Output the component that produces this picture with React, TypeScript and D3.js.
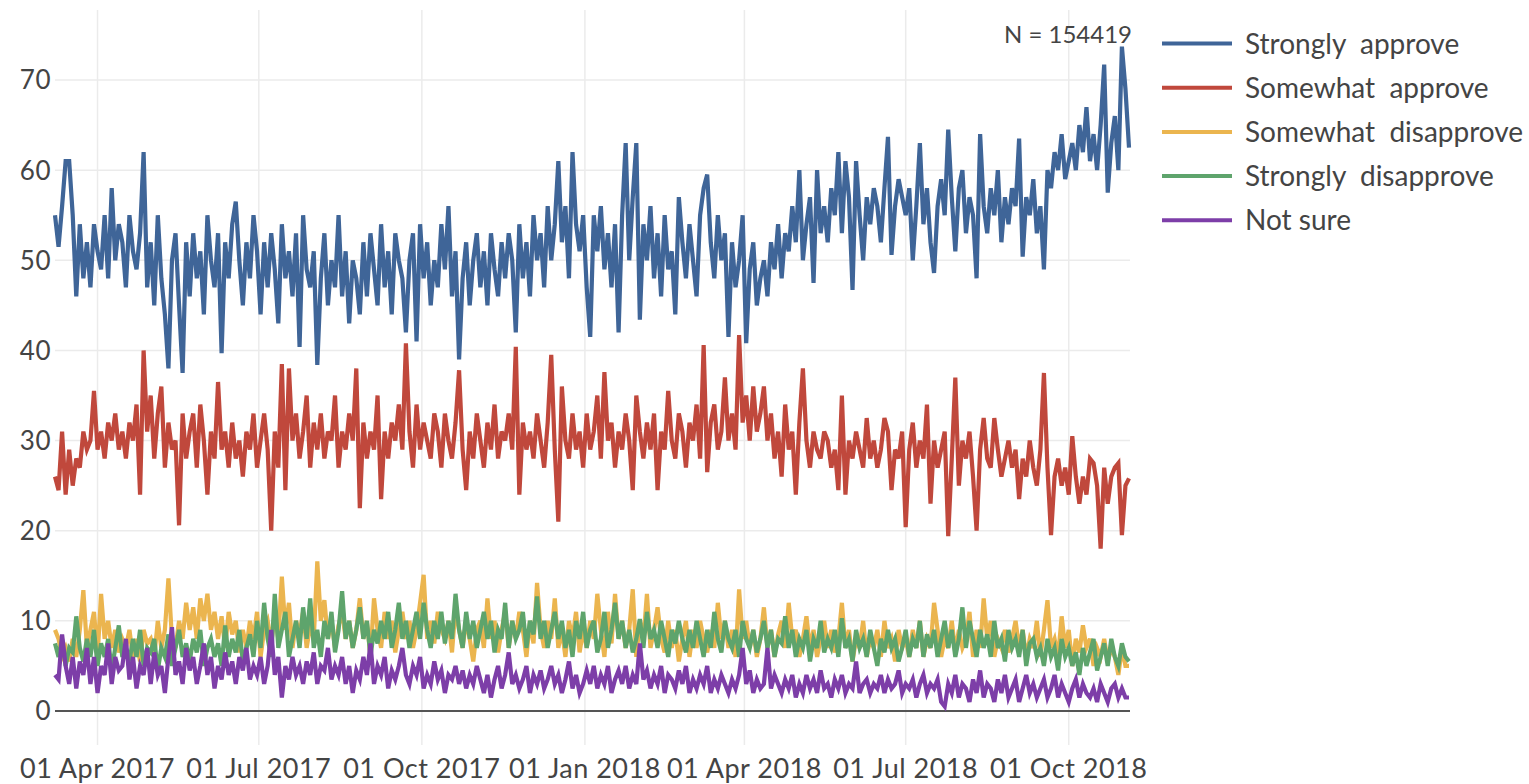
import React from "react";
import * as d3 from "d3";

// ---- data (one value every 2 days, starting 2017-03-08) ----
const startDate = "2017-03-08";
const stepDays = 2;

const seriesNames = ["Strongly  approve", "Somewhat  approve", "Somewhat  disapprove", "Strongly  disapprove", "Not sure"];
const seriesColors = ["#3f6598", "#c0483c", "#ebb54f", "#5ea46c", "#7d3ea8"];

const strongApprove = [
  55, 51.5, 56, 61, 61, 55, 46, 54, 48, 52,
  47, 54, 51, 49, 55, 48, 58, 50, 54, 52,
  47, 55, 51, 49, 53, 62, 47, 52, 45, 55,
  48, 44, 38, 50, 53, 45, 37.5, 52, 46, 53,
  48, 51, 44, 55, 50, 47, 53, 39.7, 52, 48,
  54, 56.5, 50, 45, 52, 48, 55, 51, 44, 52,
  47, 53, 49, 43, 54, 48, 51, 46, 53, 40.4,
  55, 49, 47, 51, 38.4, 48, 53, 45, 50, 47,
  55, 46, 51, 43, 50, 48, 44, 52, 46, 53,
  49, 45, 54, 47, 51, 44, 53, 50, 48, 42,
  50, 53, 41, 54, 48, 52, 45, 50, 47, 54,
  49, 56, 46, 51, 39, 48, 52, 45, 50, 53,
  47, 51, 45, 53, 49, 46, 52, 48, 53, 50,
  42, 54, 48, 52, 46, 55, 50, 53, 47, 56,
  50, 54, 61, 52, 56, 48, 62, 54, 51, 55,
  47, 41.5, 55, 51, 56, 49, 53, 47, 54, 42,
  55, 63, 50, 57, 63, 43.4, 54, 50, 56, 48,
  53, 46, 55, 49, 51, 44, 57, 52, 48, 54,
  50, 46, 55, 58, 59.5, 52, 48, 55, 50, 53,
  41.5, 52, 47, 50, 55, 40.8, 49, 52, 45, 48,
  50, 46, 52, 49, 54, 48, 53, 51, 56, 52,
  60, 50, 54, 57, 47.5, 60, 53, 56, 52, 58,
  55, 62, 53, 61, 57, 46.7, 61, 55, 50, 57,
  54, 58, 56, 52, 58, 63.7, 50.6, 56, 59, 57,
  55, 58, 50, 56, 63, 54, 58, 52, 48.6, 56,
  59, 55, 64.5, 57, 51, 58, 60, 53, 57, 55,
  48, 64, 56, 53, 58, 55, 60, 52, 57, 54,
  58, 56, 63.5, 50.4, 57, 55, 59, 53, 56, 49,
  60, 58, 62, 60, 64, 59, 61, 63, 60, 65,
  62, 67, 61, 64, 60, 65, 71.7, 57.5, 63, 66,
  60, 73.7, 69, 62.5,
];

const somewhatApprove = [
  26, 24.5, 31, 24, 29, 25, 28, 27, 31, 29,
  30, 35.5, 29, 31, 28, 32, 30, 33, 29, 31,
  28, 32, 30, 34, 24, 40, 31, 35, 28, 33,
  36, 27, 32, 29, 30, 20.6, 33, 28, 31, 33,
  27, 34, 30, 24, 31, 28, 36.5, 29, 31, 27,
  32, 28, 30, 26, 31, 29, 33, 27, 30, 33,
  29, 20, 31, 27, 38.5, 24.5, 38, 30, 33, 28,
  31, 35, 27, 32, 29, 33, 28, 31, 30, 35,
  27, 31, 29, 33, 30, 38, 22.5, 32, 28, 31,
  29, 35, 23.5, 31, 28, 32, 30, 34, 29, 40.8,
  31, 27, 34, 29, 32, 30, 28, 33, 31, 27,
  33, 30, 28, 32, 37.8, 29, 24.5, 31, 28, 33,
  30, 27, 32, 29, 34, 28, 31, 30, 33, 29,
  40.4, 24, 32, 29, 31, 28, 33, 30, 27, 32,
  39.5, 29, 21, 36, 30, 28, 33, 29, 31, 27,
  33, 29, 31, 35, 28, 37.6, 30, 32, 27, 31,
  29, 33, 30, 24.5, 35, 31, 28, 32, 29, 33,
  24.5, 31, 29, 35.5, 30, 28, 33, 31, 27, 32,
  30, 34, 28, 40.6, 26.5, 32, 34, 29, 31, 37,
  30, 33, 29, 41.7, 32, 35, 30, 36, 31, 33,
  36, 30, 33, 28, 31, 26, 34, 29, 31, 24,
  32, 38, 30, 27, 31, 29, 28, 31, 30, 27,
  29, 24.5, 35, 24, 30, 28, 31, 29, 27, 32.5,
  28, 30, 27, 29, 32.5, 31, 24.5, 29, 28, 31,
  20.4, 29, 32, 27, 30, 28, 34, 23, 30, 27,
  29, 31, 19.4, 28, 37, 25, 30, 28, 31, 26,
  20, 29, 32.5, 28, 27, 32.5, 29, 26, 28, 30,
  27, 29, 23.5, 28, 26, 30, 27, 25, 29, 37.5,
  27, 19.5, 26, 28, 25, 27, 24, 30.5, 26, 23,
  26, 24, 28, 27.5, 25, 18, 27, 23, 26, 27,
  27.5, 19.5, 25, 25.8,
];

const somewhatDisapprove = [
  9, 8, 6, 7, 5.5, 8, 6, 9, 13.4, 7,
  9, 11, 6, 13, 8, 10, 7, 9, 6.5, 8,
  7, 9, 6, 8, 5.5, 9, 7.5, 8, 6, 10,
  7, 9, 14.7, 8, 7, 10, 8, 12, 9, 11.5,
  8, 12.5, 10, 13, 9, 11, 8, 10.5, 7, 11,
  8.5, 10, 6.5, 9, 7, 10, 8, 11, 6, 9,
  10, 7.5, 11, 8, 14.9, 9, 12, 7, 10, 8.5,
  11, 7, 9.5, 8, 16.6, 10, 12.3, 8, 10, 7,
  9.5, 11, 8, 10, 7, 9, 12.5, 8, 10, 6,
  12.5, 9, 7, 11, 8, 10, 6.5, 9, 11, 8,
  10, 7, 9, 12, 15.1, 8, 10, 7.5, 11, 9,
  8, 10, 6.5, 11.5, 9, 7, 10, 8, 5.5, 9,
  10, 7, 12.5, 8, 10, 6.5, 9, 11, 7, 10,
  8, 11, 9, 6, 10, 7.5, 14.2, 9, 7, 10,
  8, 12.5, 7, 9, 6, 10, 8, 11, 6.5, 9,
  7, 10, 8, 13, 9, 6, 11, 7.5, 13, 8,
  10, 7, 9, 13.5, 6, 10, 8, 13, 7, 9,
  11.5, 8, 6.5, 10, 7, 9, 5.5, 8, 10, 6,
  9, 7, 10, 8, 6.5, 9, 7, 12, 8, 10,
  7, 9, 6, 13.5, 8, 10, 7, 9, 6, 8,
  11.5, 7, 9, 6, 8.5, 10, 7, 12, 8, 9,
  6, 8, 10.5, 7, 9, 6, 8, 10, 7, 9,
  6.5, 8, 12, 7, 9, 5.5, 8, 7, 10, 6,
  8, 7, 9, 6, 10, 7, 8, 5.5, 9, 7,
  8, 6, 9, 7, 10, 6, 8, 7, 12, 9,
  6, 8, 7, 10, 6.5, 9, 7, 8, 11, 6,
  9, 7, 12.5, 8, 10, 6, 8, 7, 9, 6.5,
  8, 10, 7, 9, 6, 8, 7, 10, 6, 9,
  12.3, 7, 8, 6, 10.5, 7, 9, 5, 8, 6.5,
  9.5, 7, 8, 5, 7, 6, 8, 5.5, 7, 6,
  4, 7, 5, 5,
];

const strongDisapprove = [
  7.5, 6, 8, 5, 7, 6.5, 10.5, 7, 5.5, 8,
  6, 9, 5, 7.5, 6, 8, 4.5, 7, 9.5, 6,
  7, 5.5, 8, 6, 9, 5, 7, 6.5, 8, 4.5,
  7, 6, 8.5, 5, 7, 9, 6, 7.5, 5.5, 8,
  6.5, 9, 5, 7, 8, 6, 7.5, 5, 9.5, 6,
  8, 6.5, 9, 5.5, 7, 8.5, 6, 10, 7, 12,
  8, 6, 13, 7, 9, 11, 6, 8, 10, 7,
  11.5, 8, 12.5, 7, 9, 6, 10, 8, 11, 6.5,
  9, 13.3, 8, 10, 7, 9, 11.5, 8, 10, 6,
  9, 7.5, 10, 8, 11, 7, 9, 12, 8, 10,
  7, 9, 11, 8, 12, 9, 7, 10, 8, 11,
  7.5, 10, 8, 13, 9, 7, 11, 8, 10, 7,
  9, 11, 8, 10, 6.5, 9, 8, 12, 7, 10,
  8, 9, 11, 7, 10, 8.5, 12.7, 8, 10, 7,
  9, 11, 8, 10, 7, 9, 6, 10, 8, 11,
  7, 9, 10, 6.5, 8, 11, 7, 9, 12, 8,
  10, 7, 9, 6.5, 8, 10.2, 7, 11, 8, 9,
  7, 10, 8, 6, 9, 7.5, 10, 8, 6.5, 9,
  7, 10, 8, 6, 9, 7, 11, 8, 6.5, 10,
  8, 7, 9, 6, 10, 8, 7, 9, 6.5, 8,
  10, 7, 9, 6, 8, 7.5, 10.5, 7, 9, 6,
  8, 7, 9, 5.5, 8, 7, 10, 6.5, 8, 7,
  9, 6, 10.3, 7, 8, 5.5, 9, 7, 8, 6,
  9, 7, 5, 8, 6.5, 9, 7, 8, 5.5, 7,
  9, 6, 8, 7, 10, 6, 8.5, 7, 9, 6,
  8, 10, 7, 9, 6, 8, 11.5, 7, 10, 8,
  6, 9, 7, 8.5, 6, 10, 7, 8, 5.5, 9,
  7, 8, 6, 9, 5, 7.5, 8, 6, 7, 5,
  8, 6, 7, 4.5, 8, 6, 7, 5, 6.5, 4,
  7, 5, 6.5, 8, 4.5, 6, 7.5, 5, 8, 6,
  5, 7.5, 6, 5.5,
];

const notSure = [
  4, 3.5, 8.5, 5, 3, 6, 2.5, 5.5, 4, 7,
  3, 6, 2, 5, 4, 7.5, 3, 6, 4.5, 5,
  8, 3.5, 6, 2.5, 5, 4, 7, 3, 6.5, 4,
  5, 2, 6, 9.3, 4, 5.5, 3, 7, 4.5, 6,
  3, 5, 7.5, 4, 6, 2.5, 5, 3.5, 6.5, 4,
  5.5, 3, 6, 4.5, 7, 3.5, 5, 4, 6, 3,
  5, 9, 4, 6, 1.5, 5, 3.5, 6, 4, 5,
  3, 5.5, 4, 6.5, 3, 5, 4.5, 7, 3.5, 5,
  4, 6, 3, 5, 2, 4.5, 3.5, 6, 4, 7.5,
  3, 5, 4, 6, 2.5, 4.5, 3.5, 5, 7, 4,
  3, 5, 4, 6, 2.5, 4, 3, 5.5, 3.5, 4.5,
  2, 4, 3.5, 5, 3, 4.5, 2.5, 4, 3, 5,
  3.5, 2, 4, 1.5, 3.5, 5, 2.5, 4, 6.5, 3,
  4, 2.5, 3.5, 5, 2, 4, 3, 4.5, 2.5, 3.5,
  5, 3, 4, 2, 3.5, 5.5, 2.5, 4, 2, 3,
  4.5, 3, 5, 2.5, 4, 3, 5, 2, 3.5, 4.5,
  3, 5, 2.5, 4, 3, 7.5, 3.5, 4.5, 2.5, 4,
  3, 5, 2, 4, 3.5, 2.5, 4.5, 3, 5, 2,
  3.5, 2.5, 4, 3, 5, 2, 3.5, 2.5, 4, 3,
  2, 3.5, 2.5, 4, 7, 3, 4.5, 2, 3.5, 2.5,
  3, 7, 2.5, 4, 3, 2, 3.5, 2.5, 4, 1.5,
  3, 2, 4, 2.5, 3.5, 2, 4.5, 2.5, 3, 1.5,
  3.5, 2.5, 4, 2, 3, 2.5, 5.5, 2, 3, 3.5,
  2, 3, 2.5, 4, 2, 3.5, 2.5, 3, 4.5, 2,
  3, 2.5, 3.5, 1.5, 3, 4, 2, 3, 2.5, 3.5,
  1, 0.5, 3, 2, 4, 1.5, 3, 2.5, 1, 3.5,
  2, 4.5, 1.5, 3, 2.5, 1, 3.5, 2, 4, 1.5,
  2.5, 3.5, 1, 2.5, 4, 2, 3, 1.5, 2.5, 3.5,
  1.5, 2.5, 4, 1.5, 3, 2, 1, 2.5, 3.5, 1.5,
  3, 2, 1.5, 2.5, 1, 3, 2, 1, 2.5, 3,
  1.5, 2.5, 1.5, 1.5,
];

const xTickDates = ["2017-04-01", "2017-07-01", "2017-10-01", "2018-01-01", "2018-04-01", "2018-07-01", "2018-10-01"];
const yTicks = [0, 10, 20, 30, 40, 50, 60, 70];
const nLabel = "N = 154419";

const allSeries = [strongApprove, somewhatApprove, somewhatDisapprove, strongDisapprove, notSure];

export default function App() {
  const W = 1529, H = 784;
  const left = 55, right = 1130, top = 10, bottom = 745;
  const start = d3.utcParse("%Y-%m-%d")(startDate) as Date;
  const maxLen = d3.max(allSeries, (s) => s.length) as number;
  const end = d3.utcDay.offset(start, (maxLen - 1) * stepDays);

  const x = d3.scaleUtc().domain([start, end]).range([left, 1129]);
  const y = d3.scaleLinear().domain([0, 70]).range([711, 80]);
  const fmt = d3.utcFormat("%d %b %Y");
  const font = "Lato, 'Open Sans', sans-serif";
  const textColor = "#444";

  const line = d3
    .line<number>()
    .x((_, i) => x(d3.utcDay.offset(start, i * stepDays)))
    .y((d) => y(d));

  return (
    <svg width={W} height={H} style={{ position: "absolute", left: 0, top: 0, display: "block", background: "#fff" }}>
      {/* horizontal grid */}
      {yTicks.filter((t) => t !== 0).map((t) => (
        <line key={"hy" + t} x1={left} x2={right} y1={y(t)} y2={y(t)} stroke="#ebebeb" strokeWidth={1.5} />
      ))}
      {/* vertical grid */}
      {xTickDates.map((s) => {
        const d = d3.utcParse("%Y-%m-%d")(s) as Date;
        return <line key={"vx" + s} x1={x(d)} x2={x(d)} y1={top} y2={bottom} stroke="#ebebeb" strokeWidth={1.5} />;
      })}
      {/* zero line */}
      <line x1={left} x2={right} y1={y(0)} y2={y(0)} stroke="#555" strokeWidth={2} />

      {/* series */}
      {allSeries.map((s, k) => (
        <path key={"s" + k} d={line(s) as string} fill="none" stroke={seriesColors[k]} strokeWidth={4.2} strokeLinejoin="miter" />
      ))}

      {/* y tick labels */}
      {yTicks.map((t) => (
        <text key={"yt" + t} x={51} y={y(t)} dy="0.36em" textAnchor="end" fontFamily={font} fontSize={26} fill={textColor} letterSpacing={0.5}>
          {t}
        </text>
      ))}
      {/* x tick labels */}
      {xTickDates.map((s) => {
        const d = d3.utcParse("%Y-%m-%d")(s) as Date;
        return (
          <text key={"xt" + s} x={x(d)} y={778} textAnchor="middle" fontFamily={font} fontSize={27} fill={textColor} letterSpacing={0.5}>
            {fmt(d)}
          </text>
        );
      })}

      {/* N label */}
      <text x={1132} y={43} textAnchor="end" fontFamily={font} fontSize={24} fill={textColor}>
        {nLabel}
      </text>

      {/* legend */}
      {seriesNames.map((name, k) => {
        const ly = 43.5 + k * 44.2;
        return (
          <g key={"lg" + k}>
            <line x1={1162} x2={1232} y1={ly} y2={ly} stroke={seriesColors[k]} strokeWidth={4} />
            <text x={1245} y={ly} dy="0.36em" fontFamily={font} fontSize={28} fill={textColor} style={{ whiteSpace: "pre" }}>
              {name}
            </text>
          </g>
        );
      })}
    </svg>
  );
}
